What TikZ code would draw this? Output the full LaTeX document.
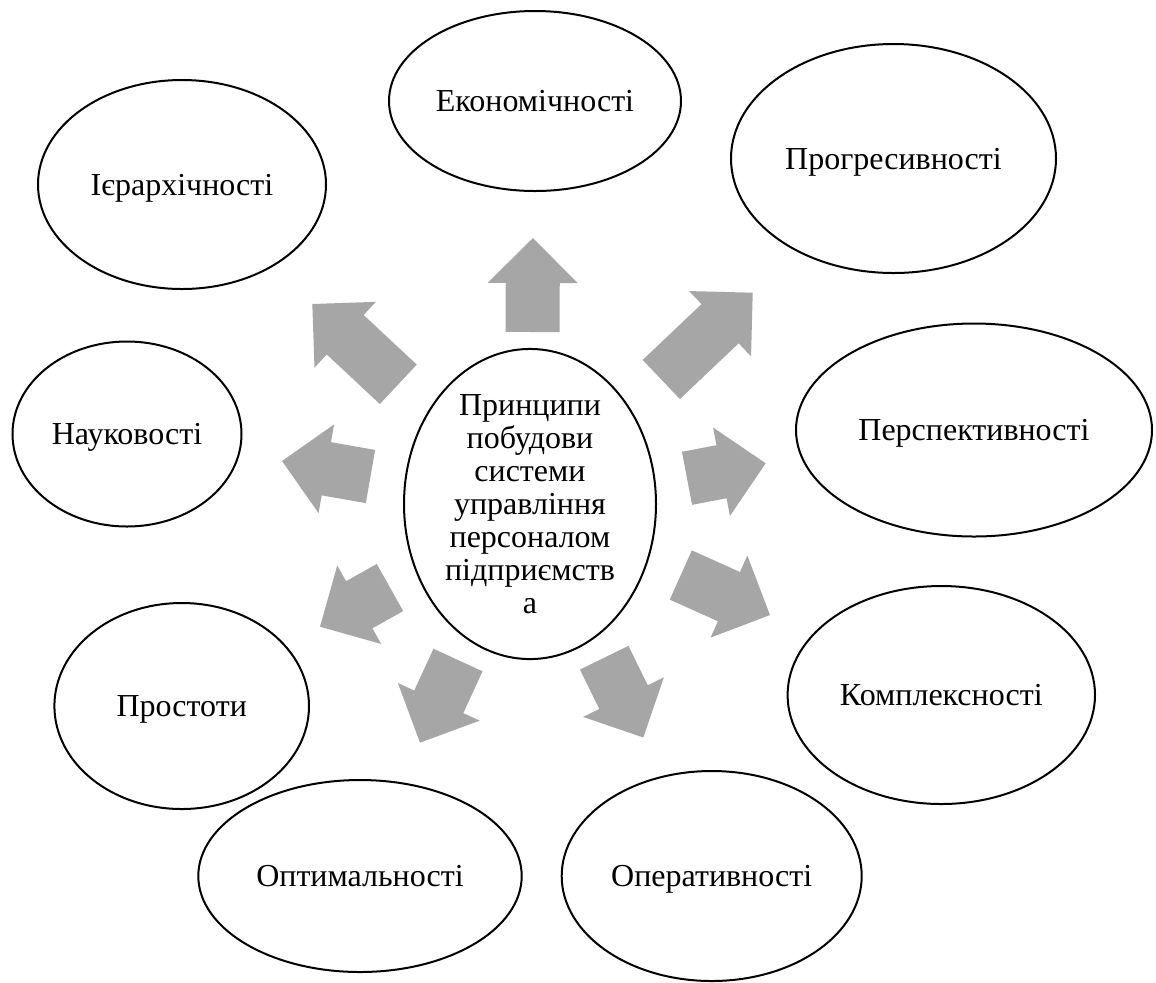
\documentclass[tikz,border=0pt]{standalone}
\usepackage{fontspec}
\setmainfont{Liberation Serif}
\usetikzlibrary{shapes.geometric,calc}
\definecolor{arrowgray}{HTML}{A6A6A6}

\tikzset{
  labelfont/.style={font=\fontsize{16}{16.5}\selectfont},
  principle/.style={ellipse, draw=black, line width=1pt, inner sep=0pt,
    labelfont, text height=10.9pt, text depth=0pt},
  hub/.style={ellipse, draw=black, line width=1pt, inner sep=0pt,
    align=center, labelfont},
  arrowfill/.style={fill=arrowgray, draw=none},
}

% Block arrow from tail point #1 to tip point #2:
% shaft 27pt wide, head 45pt wide and 22.5pt long.
\newcommand\grayarrow[2]{%
  \coordinate (ga-h) at ($(#2)!22.5pt!(#1)$);
  \fill[arrowfill]
    ($(#1)!13.5pt!90:(#2)$) -- ($(ga-h)!13.5pt!90:(#2)$) --
    ($(ga-h)!22.5pt!90:(#2)$) -- (#2) --
    ($(ga-h)!22.5pt!-90:(#2)$) -- ($(ga-h)!13.5pt!-90:(#2)$) --
    ($(#1)!13.5pt!-90:(#2)$) -- cycle;
}

\begin{document}
\begin{tikzpicture}[x=0.5pt, y=-0.5pt]
  \path[fill=white, use as bounding box] (0,0) rectangle (1156,982);

  % central node
  \node[hub, minimum width=126pt, minimum height=133pt] (hub) at (530,504)
    {Принципи\\побудови\\системи\\управління\\персоналом\\підприємств\\а};

  % surrounding principles
  \node[principle, minimum width=146pt, minimum height=90pt]   (econ)   at (535,101)   {Економічності};
  \node[principle, minimum width=144pt, minimum height=104.5pt] (ierar)  at (182,184.5) {Ієрархічності};
  \node[principle, minimum width=162.5pt, minimum height=114.5pt] (progr) at (893.5,158.5) {Прогресивності};
  \node[principle, minimum width=178pt, minimum height=106.5pt] (persp)  at (974,430)   {Перспективності};
  \node[principle, minimum width=114.5pt, minimum height=92.5pt] (nauk)  at (127,434)   {Науковості};
  \node[principle, minimum width=153.7pt, minimum height=109pt] (kompl)  at (941.3,695) {Комплексності};
  \node[principle, minimum width=127.3pt, minimum height=103pt] (prost)  at (181.7,706) {Простоти};
  \node[principle, minimum width=161.7pt, minimum height=96pt]  (optim)  at (360,876)   {Оптимальності};
  \node[principle, minimum width=150pt, minimum height=105pt]   (operat) at (711.7,876) {Оперативності};

  % arrow tails and tips
  \coordinate (t1) at (532.5,332);  \coordinate (p1) at (533,238);
  \coordinate (t2) at (398.3,384.3); \coordinate (p2) at (312.3,304);
  \coordinate (t3) at (661.3,379.5); \coordinate (p3) at (752.7,292.7);
  \coordinate (t4) at (370.5,476.5); \coordinate (p4) at (282,461);
  \coordinate (t5) at (687,478.3);   \coordinate (p5) at (765.7,463.3);
  \coordinate (t6) at (390,587.5);   \coordinate (p6) at (320,626.7);
  \coordinate (t7) at (680.8,575);   \coordinate (p7) at (770,615);
  \coordinate (t8) at (458,660);     \coordinate (p8) at (420,742.7);
  \coordinate (t9) at (604.2,657.7); \coordinate (p9) at (643.3,737.5);

  \grayarrow{t1}{p1}
  \grayarrow{t2}{p2}
  \grayarrow{t3}{p3}
  \grayarrow{t4}{p4}
  \grayarrow{t5}{p5}
  \grayarrow{t6}{p6}
  \grayarrow{t7}{p7}
  \grayarrow{t8}{p8}
  \grayarrow{t9}{p9}
\end{tikzpicture}
\end{document}
